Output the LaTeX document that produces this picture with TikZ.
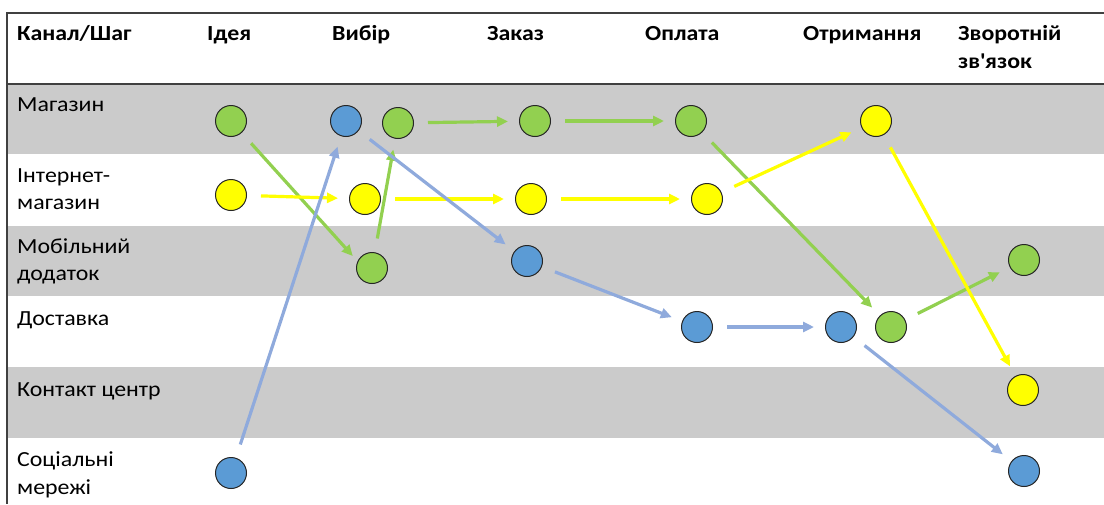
\documentclass[tikz,border=0pt]{standalone}
\usepackage{fontspec}
\setmainfont{Carlito}[FakeStretch=1.11]
\usetikzlibrary{arrows.meta}
\definecolor{cgreen}{HTML}{92D050}
\definecolor{cblue}{HTML}{5B9BD5}
\definecolor{cyellow}{HTML}{FFFF00}
\definecolor{ablue}{HTML}{8FAADC}
\definecolor{band}{HTML}{CBCBCB}
\definecolor{rulec}{HTML}{404040}
\definecolor{dotline}{HTML}{262626}
\begin{document}
\begin{tikzpicture}[x=1pt,y=-1pt,
  hdr/.style={anchor=base west,inner sep=0pt,font=\bfseries\fontsize{21.5}{25}\selectfont},
  lbl/.style={anchor=base west,inner sep=0pt,font=\fontsize{21.5}{25}\selectfont},
  dot/.style={circle,minimum size=31pt,inner sep=0pt,draw=dotline,line width=1pt},
  gdot/.style={dot,fill=cgreen},
  bdot/.style={dot,fill=cblue},
  ydot/.style={dot,fill=cyellow},
  flow/.style={line width=3.2pt,-{Triangle[length=11pt,width=10pt]},shorten <=14pt,shorten >=11pt},
  garr/.style={flow,draw=cgreen,fill=cgreen},
  barr/.style={flow,draw=ablue,fill=ablue},
  yarr/.style={flow,draw=cyellow,fill=cyellow}]
\useasboundingbox (0,0) rectangle (1104,504);
\fill[white] (0,0) rectangle (1104,504);
% bands
\fill[band] (7,84) rectangle (1104,154);
\fill[band] (7,226) rectangle (1104,296);
\fill[band] (7,367) rectangle (1104,438);
% rules
\draw[rulec,line width=1.5pt] (1104,13) -- (7,13) -- (7,504);
\draw[rulec,line width=1.5pt] (7,84) -- (1104,84);
% header
\node[hdr] (h0) at (17,40) {Канал/Шаг};
\node[hdr] (h1) at (207,40) {Ідея};
\node[hdr] (h2) at (332,40) {Вибір};
\node[hdr] (h3) at (487,40) {Заказ};
\node[hdr] (h4) at (645,40) {Оплата};
\node[hdr] (h5) at (803,40) {Отримання};
\node[hdr] (h6a) at (958,40) {Зворотній};
\node[hdr] (h6b) at (958,68) {зв\textquotesingle язок};
% row labels
\node[lbl] (r1) at (17,111) {Магазин};
\node[lbl] (r2a) at (17,182) {Інтернет-};
\node[lbl] (r2b) at (17,209) {магазин};
\node[lbl] (r3a) at (17,253) {Мобільний};
\node[lbl] (r3b) at (17,280) {додаток};
\node[lbl] (r4) at (17,325) {Доставка};
\node[lbl] (r5) at (17,396) {Контакт центр};
\node[lbl] (r6a) at (17,466) {Соціальні};
\node[lbl] (r6b) at (17,494) {мережі};
% circles
\node[gdot] (m1) at (231,121) {};
\node[bdot] (m2b) at (346,121) {};
\node[gdot] (m2g) at (398,123) {};
\node[gdot] (m3) at (535,121) {};
\node[gdot] (m4) at (691,121) {};
\node[ydot] (m5) at (876,121) {};
\node[ydot] (i1) at (231,195) {};
\node[ydot] (i2) at (365,199) {};
\node[ydot] (i3) at (531,199) {};
\node[ydot] (i4) at (707,199) {};
\node[gdot] (a2) at (372,268) {};
\node[bdot] (a3) at (527,261) {};
\node[gdot] (a6) at (1024,260) {};
\node[bdot] (d4) at (697,327) {};
\node[bdot] (d5b) at (841,327) {};
\node[gdot] (d5g) at (891,327) {};
\node[ydot] (c6) at (1023,390) {};
\node[bdot] (s1) at (231,473) {};
\node[bdot] (s6) at (1024,471) {};
% green flow
\draw[garr,shorten >=7pt] (m1) -- (a2.155);
\draw[garr] (a2) -- (m2g);
\draw[garr] (m2g) -- (m3);
\draw[garr] (m3) -- (m4);
\draw[garr] (m4) -- (d5g);
\draw[garr] (d5g) -- (a6);
% yellow flow
\draw[yarr] (i1) -- (i2);
\draw[yarr] (i2) -- (i3);
\draw[yarr] (i3) -- (i4);
\draw[yarr] (i4) -- (m5);
\draw[yarr] (m5) -- (c6);
% blue flow
\draw[barr] (s1) -- (m2b);
\draw[barr] (m2b) -- (a3);
\draw[barr] (a3) -- (d4);
\draw[barr] (d4) -- (d5b);
\draw[barr] (d5b) -- (s6);
\end{tikzpicture}
\end{document}
